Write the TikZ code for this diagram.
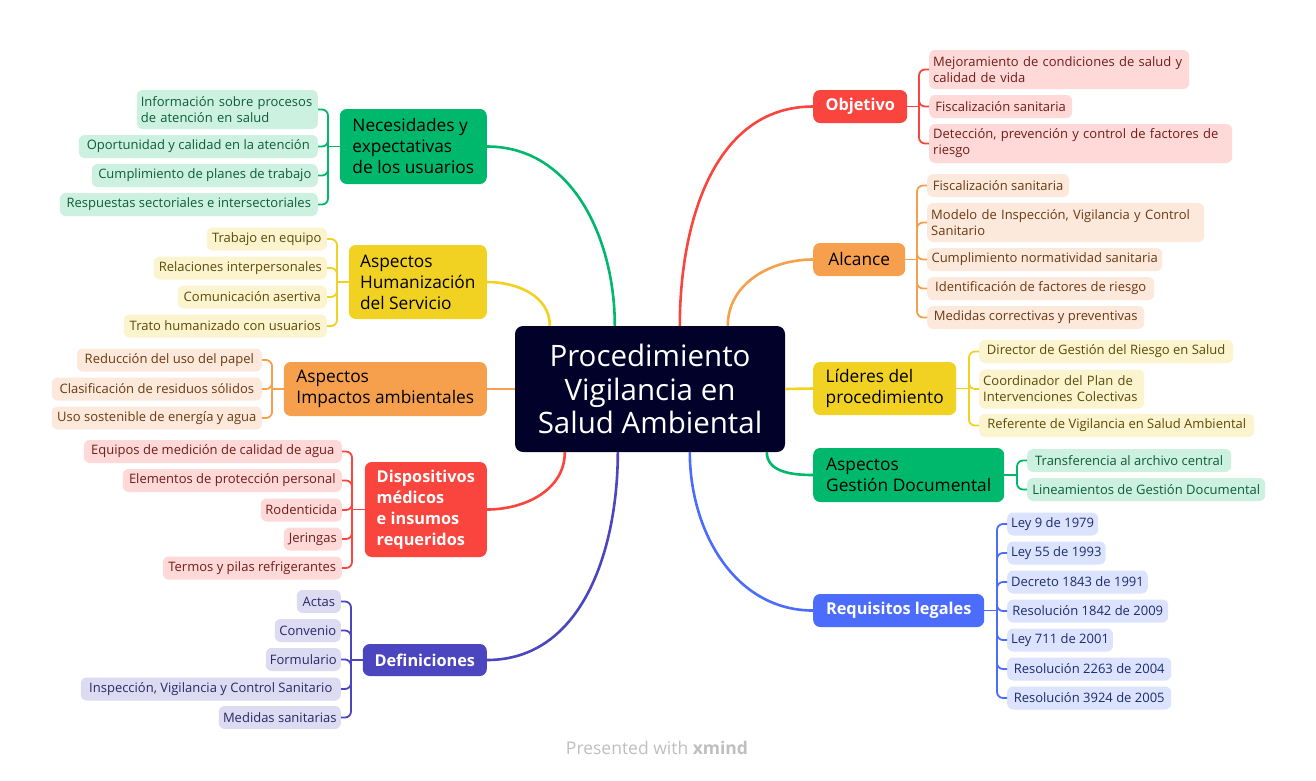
\documentclass[tikz,border=0pt]{standalone}
\usepackage{fontspec}
\setmainfont{Open Sans}
% palette
\definecolor{core}{HTML}{02012A}
\definecolor{gM}{HTML}{00B86B}\definecolor{gL}{HTML}{CDF1E1}\definecolor{gT}{HTML}{0D5C3B}
\definecolor{yM}{HTML}{F1D122}\definecolor{yL}{HTML}{FCF4CF}\definecolor{yT}{HTML}{5B4B08}
\definecolor{oM}{HTML}{F6A04D}\definecolor{oL}{HTML}{FDE9DC}\definecolor{oT}{HTML}{6A3A12}
\definecolor{rM}{HTML}{F9453D}\definecolor{rL}{HTML}{FED9D8}\definecolor{rT}{HTML}{701D1A}
\definecolor{iM}{HTML}{4B46BF}\definecolor{iL}{HTML}{DCDBF2}\definecolor{iT}{HTML}{2B2868}
\definecolor{bM}{HTML}{4C6CFD}\definecolor{bL}{HTML}{DCE3FE}\definecolor{bT}{HTML}{1D2C6E}
\begin{document}
\begin{tikzpicture}[x=1pt,y=-1pt,
  leaf/.style={rectangle, rounded corners=6pt, inner xsep=4pt, inner ysep=1pt,
    minimum height=23pt, align=left, font=\fontsize{13}{16}\selectfont},
  leafL/.style={leaf, anchor=east},
  leafR/.style={leaf, anchor=west},
  bw/.style={minimum width=#1},
  bh/.style={minimum height=#1},
  % two-line leaf: fixed text block, flush left
  tw/.style={text width=#1, minimum height=39pt},
  topic/.style={rectangle, rounded corners=7pt, inner xsep=11pt, inner ysep=3pt,
    align=left, font=\fontsize{17.3}{21}\selectfont},
  topicW/.style={topic, text=white, font=\fontsize{16.3}{21}\selectfont\bfseries},
  gLeaf/.style={fill=gL, text=gT}, yLeaf/.style={fill=yL, text=yT},
  oLeaf/.style={fill=oL, text=oT}, rLeaf/.style={fill=rL, text=rT},
  iLeaf/.style={fill=iL, text=iT}, bLeaf/.style={fill=bL, text=bT},
  trunk/.style={line width=1.8pt, rounded corners=6pt},
  branch/.style={line width=2.6pt},
]
\path[use as bounding box, fill=white] (0,0) rectangle (1316,780);

% central topic
\node[rectangle, rounded corners=8pt, fill=core, text=white, minimum width=270pt,
  minimum height=126pt, align=center, font=\fontsize{29.5}{33.5}\selectfont]
  (core) at (650,389) {Procedimiento\\Vigilancia en\\Salud Ambiental};

% ---------- left topics ----------
\node[topic, fill=gM, anchor=east, bw=147pt, bh=75pt] (nec) at (487,146.5) {Necesidades y\\expectativas\\de los usuarios};
\node[topic, fill=yM, anchor=east, bw=138pt, bh=74pt] (hum) at (487,282) {Aspectos\\Humanización\\del Servicio};
\node[topic, fill=oM, anchor=east, bw=203pt, bh=54pt] (imp) at (487,389) {Aspectos\\Impactos ambientales};
\node[topicW, fill=rM, anchor=east, bw=122pt, bh=95pt] (dis) at (487,509.5) {Dispositivos\\médicos\\e insumos\\requeridos};
\node[topicW, fill=iM, anchor=east, bw=124pt, bh=32pt] (def) at (487,660) {Definiciones};

% ---------- right topics ----------
\node[topicW, fill=rM, anchor=west, bw=94pt, bh=33pt] (obj) at (813,106.5) {Objetivo};
\node[topic, fill=oM, anchor=west, bw=92pt, bh=33pt] (alc) at (813,259.5) {Alcance};
\node[topic, fill=yM, anchor=west, bw=143pt, bh=53pt] (lid) at (813,388.5) {Líderes del\\procedimiento};
\node[topic, fill=gM, anchor=west, bw=191pt, bh=54pt] (ges) at (813,475) {Aspectos\\Gestión Documental};
\node[topicW, fill=bM, anchor=west, bw=171pt, bh=33pt] (req) at (813,610.5) {Requisitos legales};

% ---------- leaves: Necesidades ----------
\node[leafL, gLeaf, tw=173pt] (n1) at (318,109.5) {Información sobre procesos\\de atención en salud};
\node[leafL, gLeaf, bw=239pt] (n2) at (318,146.5) {Oportunidad y calidad en la atención};
\node[leafL, gLeaf, bw=226pt] (n3) at (318,175.5) {Cumplimiento de planes de trabajo};
\node[leafL, gLeaf, bw=258pt] (n4) at (318,204.5) {Respuestas sectoriales e intersectoriales};

% ---------- leaves: Humanización ----------
\node[leafL, yLeaf, bw=120pt] (h1) at (327,239) {Trabajo en equipo};
\node[leafL, yLeaf, bw=173pt] (h2) at (327,268) {Relaciones interpersonales};
\node[leafL, yLeaf, bw=149pt] (h3) at (327,297) {Comunicación asertiva};
\node[leafL, yLeaf, bw=203pt] (h4) at (327,326) {Trato humanizado con usuarios};

% ---------- leaves: Impactos ----------
\node[leafL, oLeaf, bw=185pt] (i1) at (262,360) {Reducción del uso del papel};
\node[leafL, oLeaf, bw=210pt] (i2) at (262,389) {Clasificación de residuos sólidos};
\node[leafL, oLeaf, bw=210pt] (i3) at (262,418) {Uso sostenible de energía y agua};

% ---------- leaves: Dispositivos ----------
\node[leafL, rLeaf, bw=258pt] (d1) at (342,451.5) {Equipos de medición de calidad de agua};
\node[leafL, rLeaf, bw=219pt] (d2) at (342,480.5) {Elementos de protección personal};
\node[leafL, rLeaf, bw=81pt] (d3) at (342,510) {Rodenticida};
\node[leafL, rLeaf, bw=58pt] (d4) at (342,539) {Jeringas};
\node[leafL, rLeaf, bw=179pt] (d5) at (342,568) {Termos y pilas refrigerantes};

% ---------- leaves: Definiciones ----------
\node[leafL, iLeaf, bw=44pt] (f1) at (341,601.5) {Actas};
\node[leafL, iLeaf, bw=66pt] (f2) at (341,630.5) {Convenio};
\node[leafL, iLeaf, bw=75pt] (f3) at (341,659.5) {Formulario};
\node[leafL, iLeaf, bw=260pt] (f4) at (341,689) {Inspección, Vigilancia y Control Sanitario};
\node[leafL, iLeaf, bw=122pt] (f5) at (341,717.5) {Medidas sanitarias};

% ---------- leaves: Objetivo ----------
\node[leafR, rLeaf, tw=252pt] (o1) at (929,69.5) {Mejoramiento de condiciones de salud y\\calidad de vida};
\node[leafR, rLeaf, bw=143pt] (o2) at (929,106.5) {Fiscalización sanitaria};
\node[leafR, rLeaf, tw=295pt] (o3) at (929,143.5) {Detección, prevención y control de factores de\\riesgo};

% ---------- leaves: Alcance ----------
\node[leafR, oLeaf, bw=142pt] (a1) at (927,185.5) {Fiscalización sanitaria};
\node[leafR, oLeaf, tw=269pt] (a2) at (927,222.5) {Modelo de Inspección, Vigilancia y Control\\Sanitario};
\node[leafR, oLeaf, bw=235pt] (a3) at (927,259.5) {Cumplimiento normatividad sanitaria};
\node[leafR, oLeaf, bw=227pt] (a4) at (927,288.5) {Identificación de factores de riesgo};
\node[leafR, oLeaf, bw=217pt] (a5) at (927,317.5) {Medidas correctivas y preventivas};

% ---------- leaves: Líderes ----------
\node[leafR, yLeaf, bw=254pt] (l1) at (979,351.5) {Director de Gestión del Riesgo en Salud};
\node[leafR, yLeaf, tw=157pt] (l2) at (979,389) {Coordinador del Plan de\\Intervenciones Colectivas};
\node[leafR, yLeaf, bw=275pt] (l3) at (979,425.5) {Referente de Vigilancia en Salud Ambiental};

% ---------- leaves: Gestión Documental ----------
\node[leafR, gLeaf, bw=204pt] (g1) at (1027,460.5) {Transferencia al archivo central};
\node[leafR, gLeaf, bw=238pt] (g2) at (1027,489.5) {Lineamientos de Gestión Documental};

% ---------- leaves: Requisitos legales ----------
\node[leafR, bLeaf, bw=90pt] (r1) at (1007,524) {Ley 9 de 1979};
\node[leafR, bLeaf, bw=98pt] (r2) at (1007,553) {Ley 55 de 1993};
\node[leafR, bLeaf, bw=138pt] (r3) at (1007,582) {Decreto 1843 de 1991};
\node[leafR, bLeaf, bw=161pt] (r4) at (1007,611) {Resolución 1842 de 2009};
\node[leafR, bLeaf, bw=101pt] (r5) at (1007,640) {Ley 711 de 2001};
\node[leafR, bLeaf, bw=164pt] (r6) at (1007,669) {Resolución 2263 de 2004};
\node[leafR, bLeaf, bw=164pt] (r7) at (1007,698) {Resolución 3924 de 2005};

% ---------- branches from the central topic ----------
\draw[branch, gM] (nec.east) to[out=0,in=90] ([xshift=100pt]core.north west);
\draw[branch, yM] (hum.east) to[out=0,in=90] ([xshift=35pt]core.north west);
\draw[branch, oM] (imp.east) -- (core.west);
\draw[branch, rM] (dis.east) to[out=0,in=-90] ([xshift=50pt]core.south west);
\draw[branch, iM] (def.east) to[out=0,in=-90] ([xshift=103pt]core.south west);
\draw[branch, rM] (obj.west) to[out=180,in=90] ([xshift=165pt]core.north west);
\draw[branch, oM] (alc.west) to[out=180,in=90] ([xshift=213pt]core.north west);
\draw[branch, yM] (lid.west) -- (core.east);
\draw[branch, gM] (ges.west) to[out=180,in=-90] ([xshift=252pt]core.south west);
\draw[branch, bM] (req.west) to[out=180,in=-90] ([xshift=175pt]core.south west);

% ---------- bracket trunks ----------
\coordinate (nj) at (328,146.5);
\draw[trunk, gM] (nec.west) -- (nj);
\foreach \c in {n1,n2,n3,n4} \draw[trunk, gM] (nj) |- (\c.east);
\coordinate (hj) at (337,282);
\draw[trunk, yM] (hum.west) -- (hj);
\foreach \c in {h1,h2,h3,h4} \draw[trunk, yM] (hj) |- (\c.east);
\coordinate (ij) at (272,389);
\draw[trunk, oM] (imp.west) -- (ij);
\foreach \c in {i1,i2,i3} \draw[trunk, oM] (ij) |- (\c.east);
\coordinate (dj) at (352,509.5);
\draw[trunk, rM] (dis.west) -- (dj);
\foreach \c in {d1,d2,d3,d4,d5} \draw[trunk, rM] (dj) |- (\c.east);
\coordinate (fj) at (351,660);
\draw[trunk, iM] (def.west) -- (fj);
\foreach \c in {f1,f2,f3,f4,f5} \draw[trunk, iM] (fj) |- (\c.east);

\coordinate (oj) at (919,106.5);
\draw[trunk, rM] (obj.east) -- (oj);
\foreach \c in {o1,o2,o3} \draw[trunk, rM] (oj) |- (\c.west);
\coordinate (aj) at (917,259.5);
\draw[trunk, oM] (alc.east) -- (aj);
\foreach \c in {a1,a2,a3,a4,a5} \draw[trunk, oM] (aj) |- (\c.west);
\coordinate (lj) at (969,388.5);
\draw[trunk, yM] (lid.east) -- (lj);
\foreach \c in {l1,l2,l3} \draw[trunk, yM] (lj) |- (\c.west);
\coordinate (gj) at (1017,475);
\draw[trunk, gM] (ges.east) -- (gj);
\foreach \c in {g1,g2} \draw[trunk, gM] (gj) |- (\c.west);
\coordinate (rj) at (997,610.5);
\draw[trunk, bM] (req.east) -- (rj);
\foreach \c in {r1,r2,r3,r4,r5,r6,r7} \draw[trunk, bM] (rj) |- (\c.west);

% footer
\node[text=black!25, font=\fontsize{17.5}{20}\selectfont] (foot) at (657,748) {Presented with \textbf{xmind}};
\end{tikzpicture}
\end{document}
